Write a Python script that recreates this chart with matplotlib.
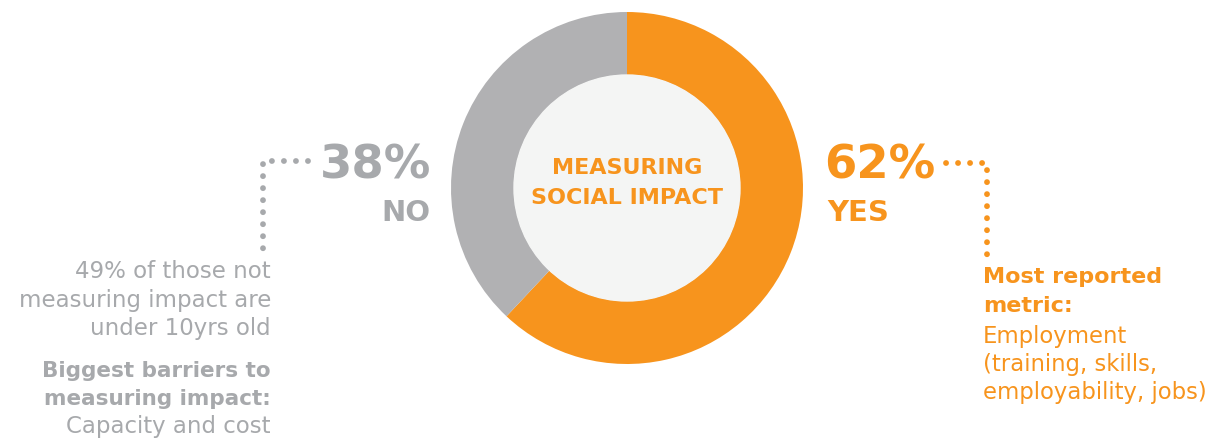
import matplotlib
matplotlib.use("Agg")
import matplotlib.pyplot as plt

# survey split
labels = ["YES", "NO"]
shares = [62, 38]
colors = ["#F7941D", "#B1B1B3"]
centre_title = ["MEASURING", "SOCIAL IMPACT"]

no_note = ["49% of those not", "measuring impact are", "under 10yrs old"]
no_head = ["Biggest barriers to", "measuring impact:"]
no_body = ["Capacity and cost"]
yes_head = ["Most reported", "metric:"]
yes_body = ["Employment", "(training, skills,", "employability, jobs)"]

W, H = 1218, 441
ORANGE = "#F7941D"
GREY = "#A7A9AC"
plt.rcParams["font.family"] = ["DejaVu Sans"]

fig = plt.figure(figsize=(W / 100, H / 100), dpi=100)
ax = fig.add_axes([0, 0, 1, 1])

def Y(py):
    return H - py

cx, cy, r_out, r_in = 627, Y(188), 176, 113
ax.pie(shares, colors=colors, startangle=90, counterclock=False,
       radius=r_out, center=(cx, cy), frame=True,
       wedgeprops=dict(width=r_out - r_in, linewidth=0))
ax.add_patch(plt.Circle((cx, cy), r_in, color="#F4F5F4", zorder=3))
ax.set_xlim(0, W)
ax.set_ylim(0, H)
ax.set_aspect("equal")
ax.axis("off")

for i, s in enumerate(centre_title):
    ax.text(cx, Y(168 + i * 30), s, ha="center", va="center", color=ORANGE,
            fontsize=16, fontweight="bold", zorder=4)

# big percentages
ax.text(431, Y(166), f"{shares[1]}%", ha="right", va="center", color=GREY,
        fontsize=33.5, fontweight="bold")
ax.text(431, Y(213), labels[1], ha="right", va="center", color=GREY,
        fontsize=21, fontweight="bold")
ax.text(824, Y(166), f"{shares[0]}%", ha="left", va="center", color=ORANGE,
        fontsize=33.5, fontweight="bold")
ax.text(827, Y(213), labels[0], ha="left", va="center", color=ORANGE,
        fontsize=21, fontweight="bold")

# dotted connectors
dots = dict(linewidth=4.2, linestyle=(0, (0.01, 2.05)), dash_capstyle="round",
            zorder=5)
ax.plot([308, 263, 263], [Y(161), Y(161), Y(250)], color=GREY, **dots)
ax.plot([946, 987, 987], [Y(163), Y(163), Y(255)], color=ORANGE, **dots)

# side notes
for i, s in enumerate(no_note):
    ax.text(271, Y(272 + i * 28), s, ha="right", va="center", color=GREY,
            fontsize=16.5)
for i, s in enumerate(no_head):
    ax.text(271, Y(371 + i * 28), s, ha="right", va="center", color=GREY,
            fontsize=15.5, fontweight="bold")
for i, s in enumerate(no_body):
    ax.text(271, Y(427 + i * 28), s, ha="right", va="center", color=GREY,
            fontsize=16.5)
for i, s in enumerate(yes_head):
    ax.text(983, Y(277 + i * 29), s, ha="left", va="center", color=ORANGE,
            fontsize=16, fontweight="bold")
for i, s in enumerate(yes_body):
    ax.text(983, Y(336 + i * 28.5), s, ha="left", va="center", color=ORANGE,
            fontsize=16.4)

fig.savefig("out.png", dpi=100, facecolor="white")
